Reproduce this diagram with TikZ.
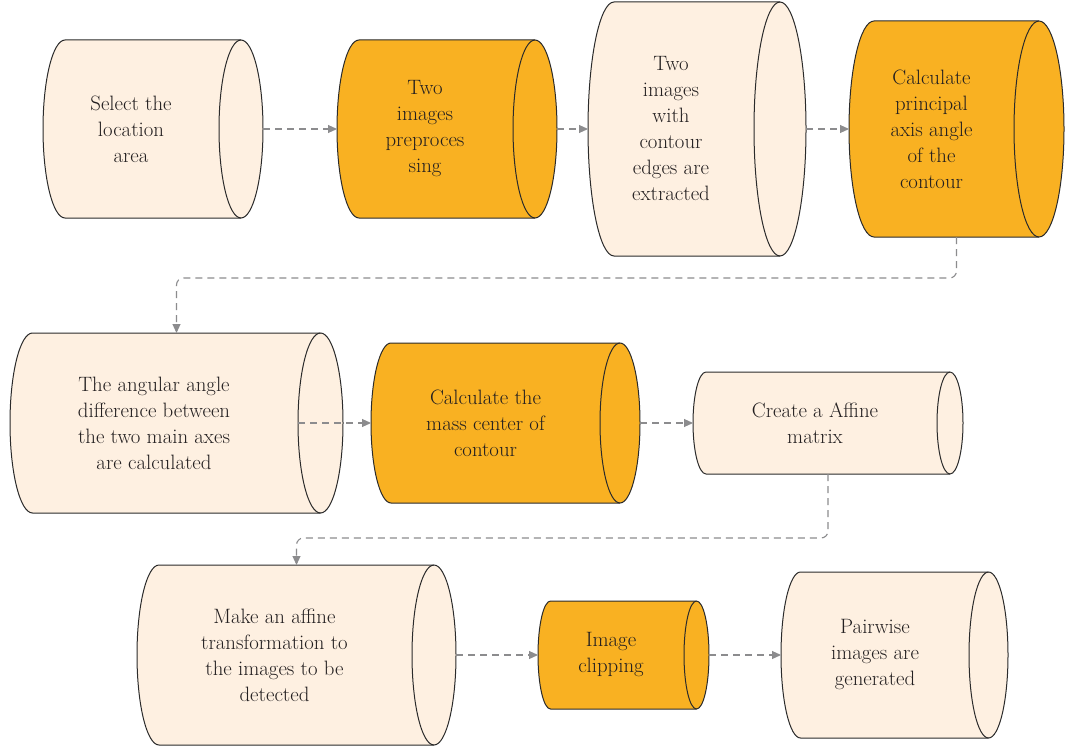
\documentclass[tikz,border=0pt]{standalone}
\usetikzlibrary{arrows.meta,calc}
\definecolor{peach}{HTML}{FEF0E1}
\definecolor{orng}{HTML}{F9B122}
\definecolor{outl}{HTML}{2B2B2B}
\definecolor{arrowgray}{HTML}{8C8C8E}
\definecolor{txtc}{HTML}{231F20}
\tikzset{
  cylbox/.style={rectangle, draw=none, inner sep=0pt, outer sep=0pt},
  cylline/.style={draw=outl, line width=1pt},
  cyltext/.style={align=center, text=txtc, font=\fontsize{20.8}{26}\selectfont, inner sep=0pt},
  conn/.style={draw=arrowgray, line width=1.1pt, dash pattern=on 7pt off 5pt, -{Triangle[length=9pt,width=8pt]}}
}
\newcommand\cylnd[8]{%
 \pgfmathsetmacro\cylCX{(#2+#4)/2}%
 \pgfmathsetmacro\cylCY{(#3+#5)/2}%
 \pgfmathsetmacro\cylW{#4-#2}%
 \pgfmathsetmacro\cylH{#5-#3}%
 \pgfmathsetmacro\cylR{(#5-#3)/2}%
 \pgfmathsetmacro\cylA{#2+#6}%
 \pgfmathsetmacro\cylB{#4-#6}%
 \node[cylbox, minimum width=\cylW pt, minimum height=\cylH pt] (#1) at (\cylCX,\cylCY) {};
 \filldraw[cylline, fill=#7] (\cylA,#3) -- (\cylB,#3) arc[start angle=90, end angle=-90, x radius=#6pt, y radius=\cylR pt] -- (\cylA,#5) arc[start angle=270, end angle=90, x radius=#6pt, y radius=\cylR pt] -- cycle;
 \draw[cylline] (\cylB,#3) arc[start angle=90, end angle=270, x radius=#6pt, y radius=\cylR pt];
 \node[cyltext] at ([xshift=-#6pt]#1.center) {#8};
}
\begin{document}
\begin{tikzpicture}[x=1pt,y=-1pt]
\useasboundingbox[fill=white] (0,0) rectangle (1065,746);
\cylnd{n1}{43}{40}{263}{218}{22}{peach}{Select the\\location\\area}
\cylnd{n2}{337}{40}{557}{218}{22}{orng}{Two\\images\\preproces\\sing}
\cylnd{n3}{588}{2}{806}{256}{26}{peach}{Two\\images\\with\\contour\\edges are\\extracted}
\cylnd{n4}{849}{21}{1064}{237}{25}{orng}{Calculate\\principal\\axis angle\\of the\\contour}
\cylnd{n5}{10}{333}{343}{513}{22.5}{peach}{The angular angle\\difference between\\the two main axes\\are calculated}
\cylnd{n6}{371}{343}{640}{503}{20}{orng}{Calculate the\\mass center of\\contour}
\cylnd{n7}{693}{372}{963}{474}{13}{peach}{Create a Affine\\matrix}
\cylnd{n8}{137}{565}{456}{745}{22}{peach}{Make an affine\\transformation to\\the images to be\\detected}
\cylnd{n9}{538}{601}{709}{709}{12.5}{orng}{Image\\clipping}
\cylnd{n10}{781}{572}{1008}{738}{19.5}{peach}{Pairwise\\images are\\generated}
\draw[conn] (n1.east) -- (n2.west);
\draw[conn] (n2.east) -- (n3.west);
\draw[conn] (n3.east) -- (n4.west);
\draw[conn, rounded corners=7pt] (n4.south) -- ++(0,41) -| (n5.north);
\draw[conn] ([xshift=-45pt]n5.east) -- (n6.west);
\draw[conn] (n6.east) -- (n7.west);
\draw[conn, rounded corners=7pt] (n7.south) -- ++(0,64) -| (n8.north);
\draw[conn] (n8.east) -- (n9.west);
\draw[conn] (n9.east) -- (n10.west);
\end{tikzpicture}
\end{document}
